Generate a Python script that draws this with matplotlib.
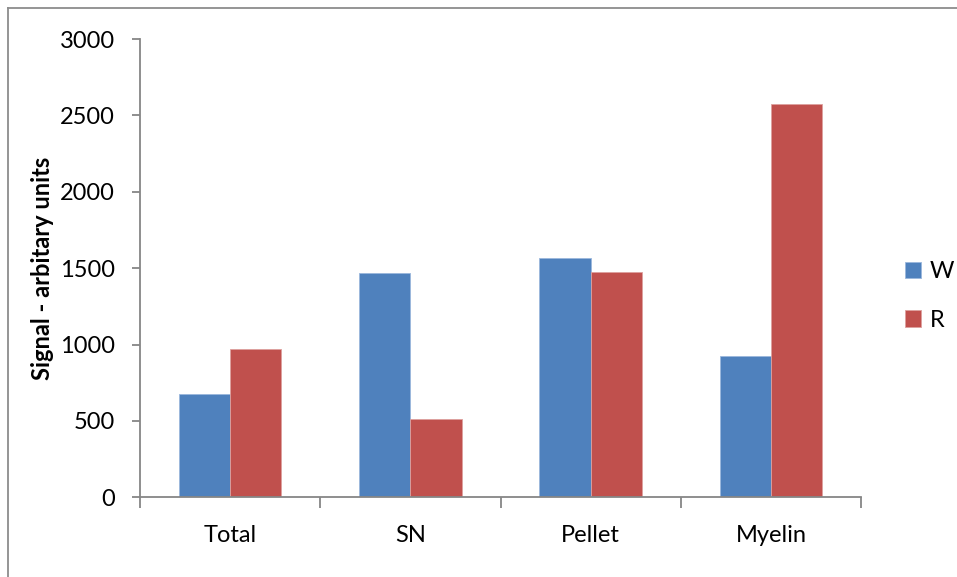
import matplotlib.pyplot as plt
from matplotlib.lines import Line2D
import numpy as np

plt.rcParams['font.family'] = ['Lato', 'DejaVu Sans']

categories = ['Total', 'SN', 'Pellet', 'Myelin']
w_values = [674, 1468, 1568, 925]
r_values = [973, 514, 1477, 2577]

blue = '#4F81BD'
red = '#C0504D'
axis_grey = '#868686'
fs = 17

fig = plt.figure(figsize=(9.57, 5.77), dpi=100)
ax = fig.add_axes([140 / 957, 1 - 497.3 / 577, 721 / 957, 458.3 / 577])

x = np.arange(len(categories))
bw = 0.285
ax.bar(x - bw / 2, w_values, bw, color=blue, label='W', edgecolor='#9BB7DC', linewidth=0.6)
ax.bar(x + bw / 2, r_values, bw, color=red, label='R', edgecolor='#DDA09E', linewidth=0.6)

ax.set_xlim(-0.5, len(categories) - 0.5)
ax.set_ylim(0, 3000)
ax.set_yticks(range(0, 3001, 500))

# category labels sit between the boundary ticks
ax.set_xticks(np.arange(-0.5, len(categories), 1.0))
ax.set_xticklabels([])
ax.set_xticks(x, minor=True)
ax.set_xticklabels(categories, minor=True)
ax.tick_params(axis='x', which='minor', length=0, pad=20, labelsize=fs)
ax.tick_params(axis='x', which='major', length=8, width=1.3, color=axis_grey, direction='out')
ax.tick_params(axis='y', length=6, width=1.3, color=axis_grey, labelsize=fs, pad=12)

for side in ['top', 'right']:
    ax.spines[side].set_visible(False)
for side in ['left', 'bottom']:
    ax.spines[side].set_color(axis_grey)
    ax.spines[side].set_linewidth(1.3)

ax.set_ylabel('Signal - arbitary units', fontsize=fs, fontweight='bold', labelpad=4)

ax.legend(loc='center left', bbox_to_anchor=(893 / 957, 1 - 296 / 577),
          bbox_transform=fig.transFigure, frameon=False, fontsize=fs,
          handlelength=0.7, handleheight=0.7, handletextpad=0.35, labelspacing=1.15,
          borderpad=0)

# chart frame, only the top and left edges show
fig.add_artist(Line2D([8 / 957, 8 / 957], [0, 1 - 8 / 577], color='#8C8C8C', linewidth=1.3))
fig.add_artist(Line2D([8 / 957, 1], [1 - 8 / 577, 1 - 8 / 577], color='#8C8C8C', linewidth=1.3))

fig.savefig('out.png', dpi=100)
